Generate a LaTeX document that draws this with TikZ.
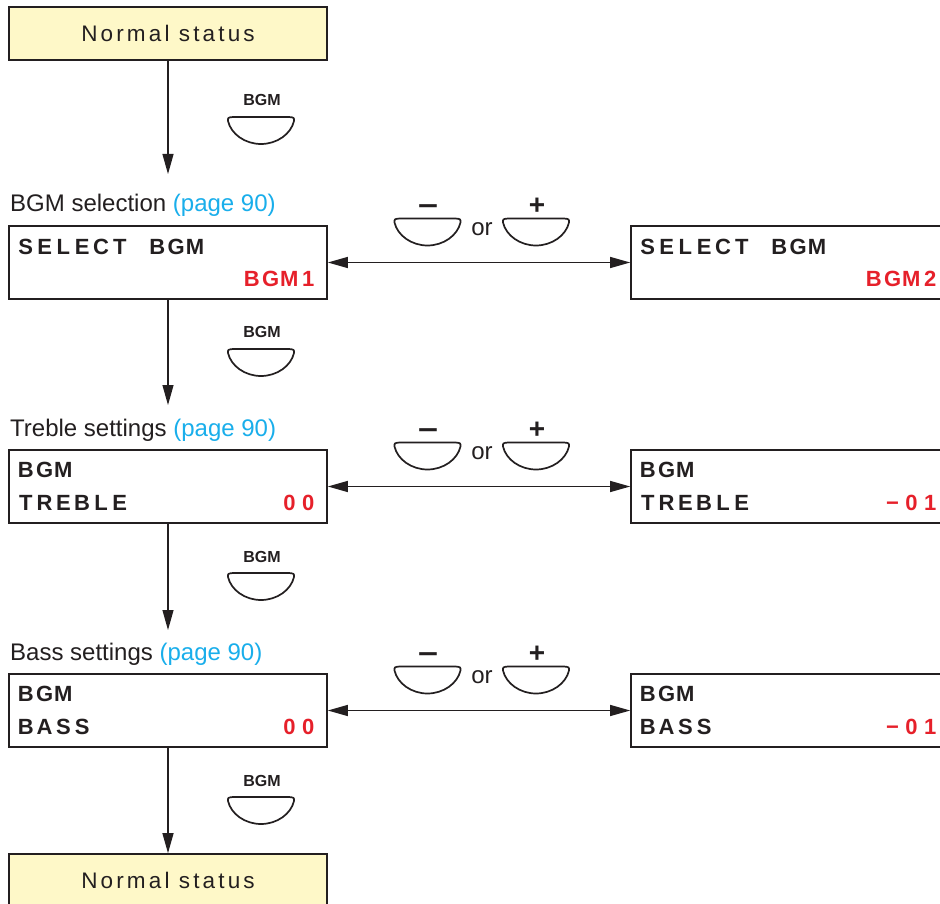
\documentclass[tikz,border=0pt]{standalone}
\usepackage{fontspec}
\setmainfont{Liberation Sans}
\usetikzlibrary{arrows.meta}
\definecolor{txt}{HTML}{231F20}
\definecolor{lcdred}{HTML}{E6202A}
\definecolor{pagecyan}{HTML}{19AEEB}
\definecolor{statusfill}{HTML}{FEF8C8}
\newlength\lcdpitch
\setlength\lcdpitch{18.8pt}
\def\lcdstop{LCDSTOP}
\def\lcd#1{\lcdA#1\lcdstop}
\def\lcdA#1{\ifx#1\lcdstop\else\makebox[\lcdpitch][c]{#1}\expandafter\lcdA\fi}
\tikzset{
  statusbox/.style={draw=txt, line width=1.6pt, fill=statusfill, minimum width=318pt, minimum height=53pt, inner sep=0pt, text=txt, font=\fontsize{22.5}{26}\selectfont\addfontfeature{LetterSpace=14}},
  lcdbox/.style={draw=txt, line width=1.6pt, fill=white, minimum width=318pt, minimum height=73pt, inner sep=0pt},
  lcdtxt/.style={inner sep=0pt, text=txt, font=\fontsize{22}{24}\selectfont\bfseries},
  lcdval/.style={lcdtxt, text=lcdred},
  steplabel/.style={inner sep=0pt, anchor=base west, text=txt, font=\fontsize{24}{28}\selectfont},
  keylabel/.style={inner sep=0pt, text=txt, font=\fontsize{16}{18}\selectfont\bfseries},
  signlabel/.style={inner sep=0pt, text=txt, font=\fontsize{28}{30}\selectfont\bfseries},
  orlabel/.style={inner sep=0pt, text=txt, font=\fontsize{24}{28}\selectfont},
  flow/.style={draw=txt, line width=1.2pt, -{Triangle[length=20pt,width=11pt]}},
  bothway/.style={draw=txt, line width=1.2pt, {Triangle[length=20pt,width=11pt]}-{Triangle[length=20pt,width=11pt]}},
  pics/keycap/.style={code={
    \draw[draw=txt, line width=1.7pt, fill=white]
      (-33,4) .. controls (-33,0.5) .. (-28,0) -- (28,0) .. controls (33,0.5) .. (33,4)
      .. controls (30,17) and (16,27) .. (0,27)
      .. controls (-16,27) and (-30,17) .. (-33,4) -- cycle;
  }}
}
\begin{document}
\begin{tikzpicture}[x=1pt,y=-1pt]
\clip (0,0) rectangle (940,904);
\fill[white] (0,0) rectangle (940,904);

% status boxes
\node[statusbox] (n1) at (168,33.5) {Normal status};
\node[statusbox] (n2) at (168,880.5) {Normal status};

% step labels
\node[steplabel] (l1) at (10,212) {BGM selection \textcolor{pagecyan}{(page 90)}};
\node[steplabel] (l2) at (10,436) {Treble settings \textcolor{pagecyan}{(page 90)}};
\node[steplabel] (l3) at (10,660) {Bass settings \textcolor{pagecyan}{(page 90)}};

% LCD boxes
\node[lcdbox] (s1) at (168,262.5) {};
\node[lcdbox] (s2) at (790,262.5) {};
\node[lcdbox] (t1) at (168,486.5) {};
\node[lcdbox] (t2) at (790,486.5) {};
\node[lcdbox] (b1) at (168,710.5) {};
\node[lcdbox] (b2) at (790,710.5) {};

% LCD texts
\node[lcdtxt, anchor=base west] (s1a) at ([shift={(8,29)}]s1.north west) {\lcd{SELECT~BGM}};
\node[lcdval, anchor=base east] (s1b) at ([shift={(-10,61)}]s1.north east) {\lcd{BGM1}};
\node[lcdtxt, anchor=base west] (s2a) at ([shift={(8,29)}]s2.north west) {\lcd{SELECT~BGM}};
\node[lcdval, anchor=base east] (s2b) at ([shift={(-10,61)}]s2.north east) {\lcd{BGM2}};

\node[lcdtxt, anchor=base west] (t1a) at ([shift={(8,28.5)}]t1.north west) {\lcd{BGM}};
\node[lcdtxt, anchor=base west] (t1b) at ([shift={(8,61)}]t1.north west) {\lcd{TREBLE}};
\node[lcdval, anchor=base east] (t1c) at ([shift={(-10,61)}]t1.north east) {\lcd{00}};
\node[lcdtxt, anchor=base west] (t2a) at ([shift={(8,28.5)}]t2.north west) {\lcd{BGM}};
\node[lcdtxt, anchor=base west] (t2b) at ([shift={(8,61)}]t2.north west) {\lcd{TREBLE}};
\node[lcdval, anchor=base east] (t2c) at ([shift={(-10,61)}]t2.north east) {\lcd{−01}};

\node[lcdtxt, anchor=base west] (b1a) at ([shift={(8,28.5)}]b1.north west) {\lcd{BGM}};
\node[lcdtxt, anchor=base west] (b1b) at ([shift={(8,61)}]b1.north west) {\lcd{BASS}};
\node[lcdval, anchor=base east] (b1c) at ([shift={(-10,61)}]b1.north east) {\lcd{00}};
\node[lcdtxt, anchor=base west] (b2a) at ([shift={(8,28.5)}]b2.north west) {\lcd{BGM}};
\node[lcdtxt, anchor=base west] (b2b) at ([shift={(8,61)}]b2.north west) {\lcd{BASS}};
\node[lcdval, anchor=base east] (b2c) at ([shift={(-10,61)}]b2.north east) {\lcd{−01}};

% down arrows
\coordinate (e1) at (168,174);
\coordinate (e2) at (168,405);
\coordinate (e3) at (168,630);
\draw[flow] (n1.south) -- (e1);
\draw[flow] (s1.south) -- (e2);
\draw[flow] (t1.south) -- (e3);
\draw[flow] (b1.south) -- (n2.north);

% BGM keys
\node[keylabel] (k1) at (262,100) {BGM};
\pic at (261,117) {keycap};
\node[keylabel] (k2) at (262,332) {BGM};
\pic at (261,349) {keycap};
\node[keylabel] (k3) at (262,557) {BGM};
\pic at (261,573) {keycap};
\node[keylabel] (k4) at (262,781) {BGM};
\pic at (261,797) {keycap};

% side arrows and -/+ keys
\draw[bothway] (s1.east) -- (s2.west);
\draw[bothway] (t1.east) -- (t2.west);
\draw[bothway] (b1.east) -- (b2.west);

\foreach \Y/\n in {262.5/1,486.5/2,710.5/3}{
  \pic at (427.5,\Y-44) {keycap};
  \pic at (536,\Y-44) {keycap};
  \node[signlabel] (m\n) at (428,\Y-52) {\scalebox{1.25}[1]{−}};
  \node[signlabel] (p\n) at (537,\Y-56) {+};
  \node[orlabel] (o\n) at (482,\Y-33) {or};
}
\end{tikzpicture}
\end{document}
